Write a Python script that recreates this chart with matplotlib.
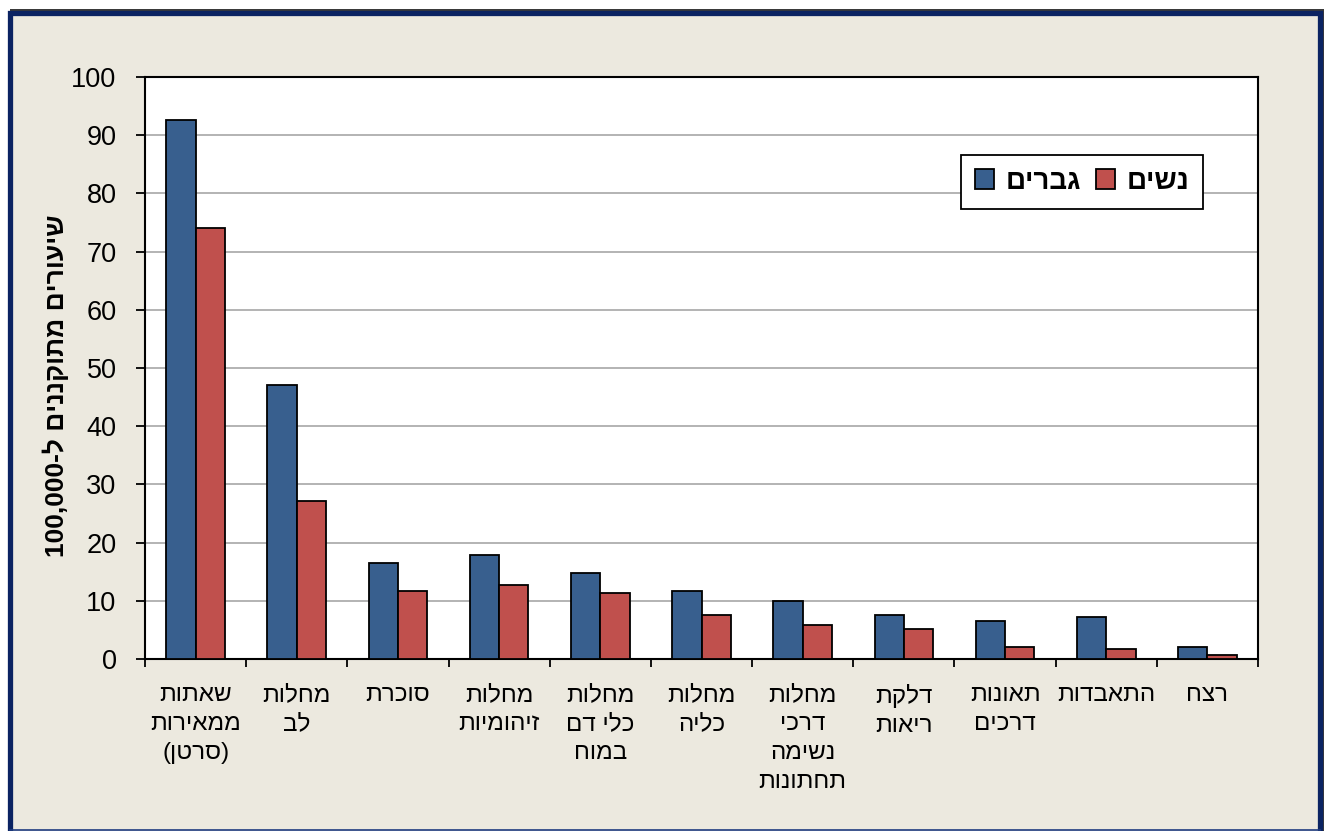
import re
import numpy as np
import matplotlib
matplotlib.use("Agg")
import matplotlib.pyplot as plt
from matplotlib.patches import Rectangle
from matplotlib.lines import Line2D

plt.rcParams["font.family"] = ["Liberation Sans", "DejaVu Sans"]

# Data (logical Hebrew order)
categories = [
    "שאתות\nממאירות\n(סרטן)",
    "מחלות\nלב",
    "סוכרת",
    "מחלות\nזיהומיות",
    "מחלות\nכלי דם\nבמוח",
    "מחלות\nכליה",
    "מחלות\nדרכי\nנשימה\nתחתונות",
    "דלקת\nריאות",
    "תאונות\nדרכים",
    "התאבדות",
    "רצח",
]
men   = [92.6, 47.1, 16.5, 17.9, 14.8, 11.7, 10.0, 7.6, 6.5, 7.2, 2.1]
women = [74.0, 27.1, 11.7, 12.7, 11.3, 7.6, 5.8, 5.2, 2.1, 1.7, 0.7]
series_names = ["גברים", "נשים"]
y_label = "שיעורים מתוקננים ל-100,000"
y_ticks = [0, 10, 20, 30, 40, 50, 60, 70, 80, 90, 100]

BLUE = "#385F8E"
RED = "#C0504D"
BG = "#ECE9DF"
NAVY = "#0B2362"


def vis(s):
    # crude RTL -> visual order for matplotlib (no bidi support)
    out = []
    for line in s.split("\n"):
        r = line[::-1]
        r = re.sub(r"[0-9][0-9,.]*", lambda m: m.group(0)[::-1], r)
        out.append(r.translate(str.maketrans("()", ")(")))
    return "\n".join(out)


W, H = 1327, 831
fig = plt.figure(figsize=(W / 100, H / 100), dpi=100, facecolor="white")

# frame with shadow
fig.patches.append(Rectangle((10 / W, -0.01), 1314 / W, 1 - 9 / H + 0.01, transform=fig.transFigure,
                             facecolor="#3A3A3A", edgecolor="none", zorder=-3))
fig.patches.append(Rectangle((9.5 / W, -0.01), 1310 / W, 1 - 12.5 / H + 0.01, transform=fig.transFigure,
                             facecolor=BG, edgecolor=NAVY, lw=3.8, zorder=-2))
fig.lines.append(Line2D([9.5 / W, 1319.5 / W], [1.5 / H, 1.5 / H], transform=fig.transFigure,
                        color="#1F3C80", lw=1.2, zorder=-1))

ax = fig.add_axes([145 / W, 1 - 659 / H, 1113 / W, 582 / H])
ax.set_facecolor("white")

x = np.arange(len(categories))
bw = 0.29
ax.bar(x - bw / 2, men, bw, color=BLUE, edgecolor="black", lw=1.3, zorder=3, label=vis(series_names[0]))
ax.bar(x + bw / 2, women, bw, color=RED, edgecolor="black", lw=1.3, zorder=3, label=vis(series_names[1]))

ax.set_xlim(-0.5, len(categories) - 0.5)
ax.set_ylim(0, 100)
ax.set_yticks(y_ticks)
ax.yaxis.grid(True, color="#B3B3B3", lw=1.4, zorder=0)
ax.set_axisbelow(True)
for sp in ax.spines.values():
    sp.set_color("black")
    sp.set_linewidth(1.5)

ax.tick_params(axis="y", direction="out", length=6.5, width=1.3, pad=14, labelsize=19.5)
ax.set_xticks(np.arange(len(categories) + 1) - 0.5)
ax.set_xticklabels([])
ax.tick_params(axis="x", which="major", direction="out", length=6, width=1.3)
ax.set_xticks(x, minor=True)
ax.set_xticklabels([vis(c) for c in categories], minor=True, fontsize=17.5, linespacing=1.42, va="top")
ax.tick_params(axis="x", which="minor", length=0, pad=18)

fig.text(56 / W, 1 - 386 / H, vis(y_label), rotation=90, ha="center", va="center",
         fontsize=19, fontweight="bold")

leg = ax.legend(ncol=2, loc="upper right", bbox_to_anchor=(0.9506, 0.866), borderaxespad=0,
                fancybox=False, frameon=True, edgecolor="black", framealpha=1,
                prop={"size": 20, "weight": "bold"}, handlelength=0.7, handleheight=0.7,
                handletextpad=0.4, columnspacing=0.55, borderpad=0.5)
leg.get_frame().set_linewidth(1.3)

fig.savefig("out.png", dpi=100, facecolor="white")
